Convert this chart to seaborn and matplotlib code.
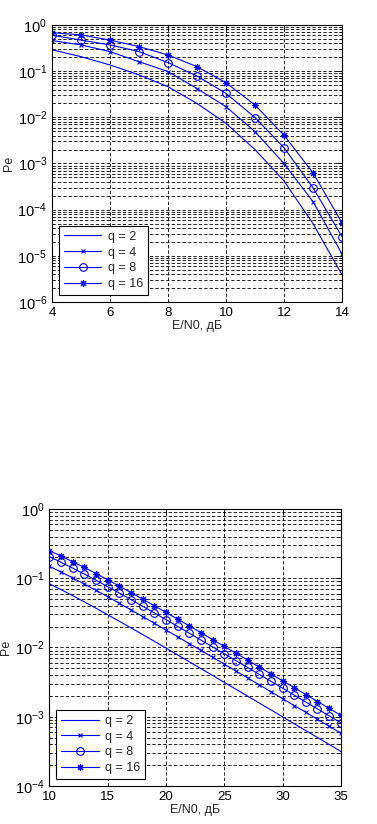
"""Pe vs E/N0 for q-ary signals: AWGN (top) and fading channel (bottom)."""

import matplotlib
matplotlib.use("Agg")
import matplotlib.pyplot as plt
import numpy as np
import pandas as pd
import seaborn as sns
from matplotlib.ticker import LogLocator, NullFormatter, FixedLocator

# ---- top panel: AWGN, E/N0 = 4..14 dB ----
snr_top = [4, 5, 6, 7, 8, 9, 10, 11, 12, 13, 14]
pe_top_q2 = [0.29, 0.206, 0.136, 0.083, 0.046, 0.020, 0.0074, 0.0020, 4.2e-4, 5.0e-5, 3.9e-6]
pe_top_q4 = [0.46, 0.37, 0.265, 0.16, 0.098, 0.042, 0.017, 0.0049, 1.0e-3, 1.5e-4, 1.1e-5]
pe_top_q8 = [0.60, 0.47, 0.37, 0.265, 0.153, 0.0786, 0.033, 0.0099, 2.2e-3, 3.0e-4, 2.6e-5]
pe_top_q16 = [0.68, 0.61, 0.47, 0.34, 0.224, 0.125, 0.056, 0.0185, 4.1e-3, 6.3e-4, 5.2e-5]

# ---- bottom panel: fading, E/N0 = 10..35 dB ----
snr_bot = list(range(10, 36))
pe_bot_q2 = [0.0833, 0.0685, 0.0560, 0.0456, 0.0369, 0.0297, 0.0239, 0.0192, 0.0154,
             0.0123, 0.0098, 0.00782, 0.00623, 0.00496, 0.00395, 0.00314, 0.00250,
             0.00199, 0.00158, 0.00126, 0.000998, 0.000793, 0.000630, 0.000501,
             0.000398, 0.000316]
pe_bot_q4 = [0.149, 0.123, 0.101, 0.0824, 0.0669, 0.0541, 0.0435, 0.0350, 0.0280,
             0.0224, 0.0179, 0.0143, 0.0114, 0.00909, 0.00723, 0.00576, 0.00458,
             0.00364, 0.00290, 0.00230, 0.00183, 0.00145, 0.00116, 0.000918,
             0.000730, 0.000580]
pe_bot_q8 = [0.205, 0.170, 0.140, 0.115, 0.0934, 0.0757, 0.0611, 0.0491, 0.0394,
             0.0316, 0.0253, 0.0202, 0.0161, 0.0128, 0.0102, 0.00813, 0.00647,
             0.00515, 0.00409, 0.00325, 0.00259, 0.00206, 0.00163, 0.00130,
             0.00103, 0.000819]
pe_bot_q16 = [0.250, 0.209, 0.173, 0.143, 0.117, 0.0950, 0.0770, 0.0621, 0.0500,
              0.0401, 0.0321, 0.0257, 0.0205, 0.0164, 0.0130, 0.0104, 0.00827,
              0.00658, 0.00523, 0.00416, 0.00331, 0.00263, 0.00209, 0.00166,
              0.00132, 0.00105]

LABELS = ["q = 2", "q = 4", "q = 8", "q = 16"]
MARKERS = [None, "x", "o", (8, 2, 0)]
MSIZES = [0, 3.5, 5.5, 5]
BLUE = "#0000ff"

sns.set_style("white")
plt.rcParams["font.family"] = ["Liberation Sans", "DejaVu Sans"]
plt.rcParams["font.size"] = 9
plt.rcParams["mathtext.fontset"] = "custom"
plt.rcParams["mathtext.rm"] = "Liberation Sans"


def draw(ax, x, series, xlim, xticks, ylim):
    for pe, label, mk, ms in zip(series, LABELS, MARKERS, MSIZES):
        df = pd.DataFrame({"snr": x, "pe": pe})
        kw = dict(marker=mk, markersize=ms, markerfacecolor="none",
                  markeredgecolor=BLUE, markeredgewidth=0.8) if mk else {}
        sns.lineplot(data=df, x="snr", y="pe", ax=ax, color=BLUE, lw=0.8,
                     label=label, **kw)
    ax.set_yscale("log")
    ax.set_xlim(*xlim)
    ax.set_ylim(*ylim)
    ax.xaxis.set_major_locator(FixedLocator(xticks))
    ax.yaxis.set_major_locator(LogLocator(base=10, numticks=20))
    ax.yaxis.set_minor_locator(LogLocator(base=10, subs=np.arange(2, 10), numticks=20))
    ax.yaxis.set_minor_formatter(NullFormatter())
    dash = (0, (4, 2.5))
    ax.grid(True, which="major", axis="both", color="black", lw=0.6, ls=dash)
    ax.grid(True, which="minor", axis="y", color="black", lw=0.6, ls=dash)
    ax.tick_params(direction="in", which="both", top=True, right=True,
                   length=4, width=0.6, colors="black")
    ax.tick_params(axis="x", labelsize=9.5)
    ax.tick_params(axis="y", labelsize=10.5)
    ax.tick_params(which="minor", length=2)
    for s in ax.spines.values():
        s.set_color("black")
        s.set_linewidth(0.8)
    ax.set_xlabel("E/N0, дБ", labelpad=1, fontsize=9)
    ax.set_ylabel("Pe", labelpad=2, fontsize=9)
    leg = ax.legend(loc="lower left", frameon=True, fancybox=False,
                    edgecolor="black", framealpha=1, fontsize=9,
                    handlelength=3.0, borderpad=0.4, labelspacing=0.3,
                    handletextpad=0.5, borderaxespad=0.55)
    leg.get_frame().set_linewidth(0.8)


fig = plt.figure(figsize=(3.77, 8.24), dpi=100)
ax_top = fig.add_axes([0.138, 0.6335, 0.769, 0.3362])
ax_bot = fig.add_axes([0.131, 0.0461, 0.773, 0.3362])

draw(ax_top, snr_top, [pe_top_q2, pe_top_q4, pe_top_q8, pe_top_q16],
     (4, 14), [4, 6, 8, 10, 12, 14], (1e-6, 1))
draw(ax_bot, snr_bot, [pe_bot_q2, pe_bot_q4, pe_bot_q8, pe_bot_q16],
     (10, 35), [10, 15, 20, 25, 30, 35], (1e-4, 1))

fig.savefig("out.png", dpi=100)
